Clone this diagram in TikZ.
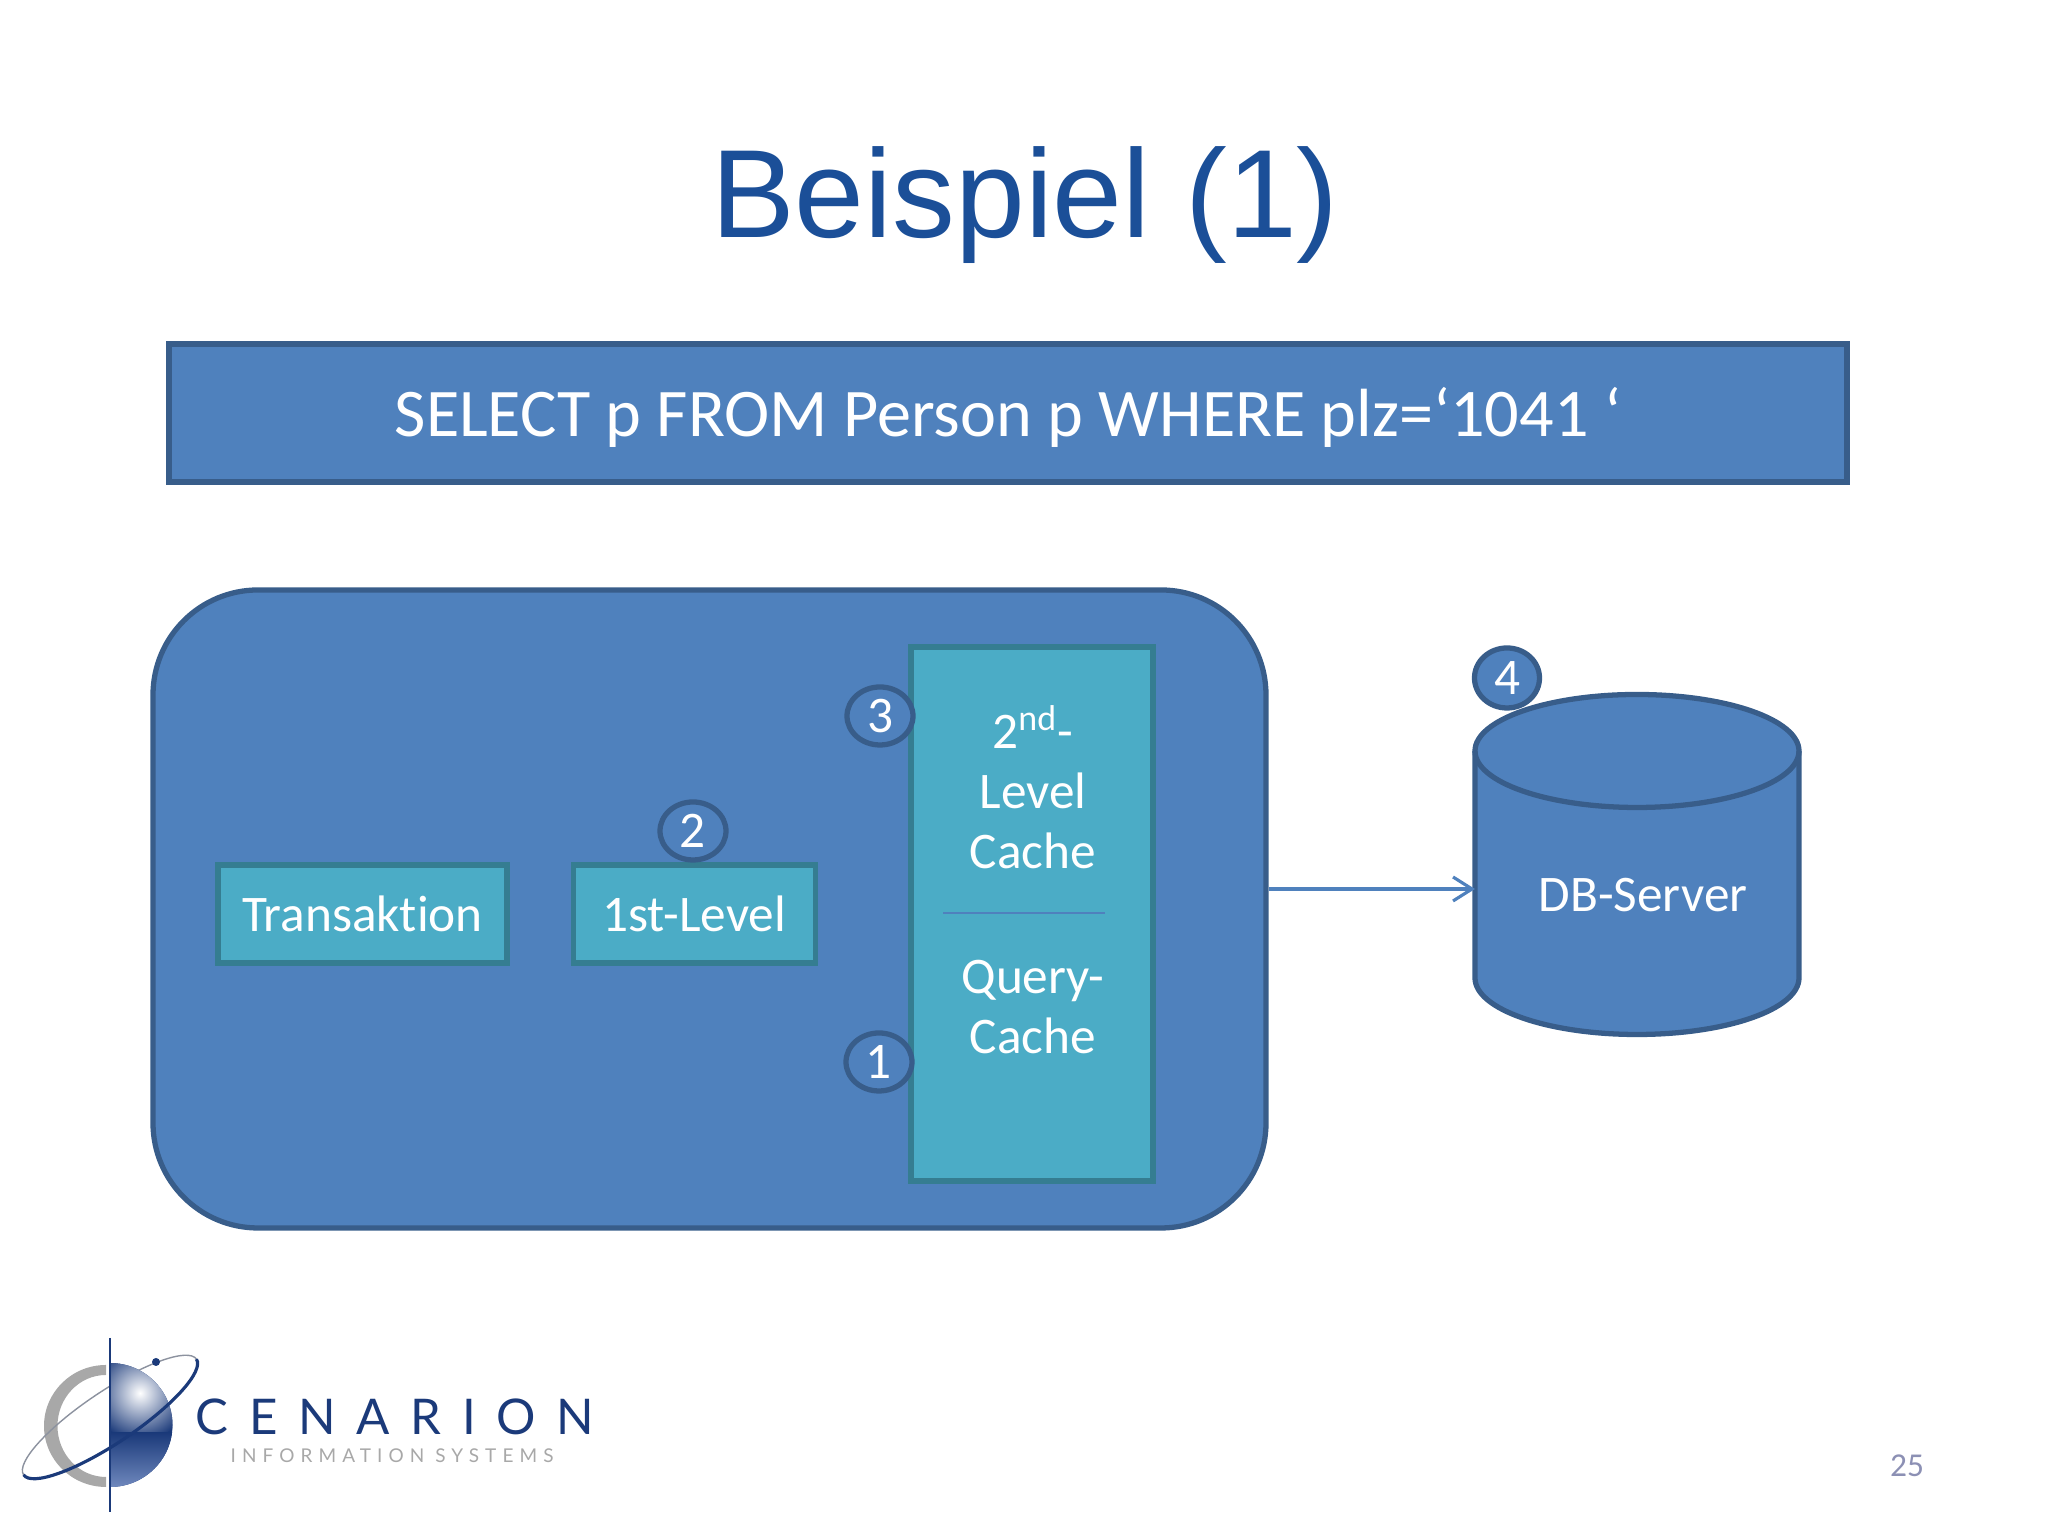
\documentclass[tikz,border=0pt]{standalone}
\usepackage{fontspec}
\setmainfont{Carlito}[RawFeature=-liga]
\newfontfamily\titlefont{Liberation Sans}
\newfontfamily\logofont{Lato}[LetterSpace=42]
\newfontfamily\logosubfont{Lato}[LetterSpace=32]
\usepackage{tikz}
\usetikzlibrary{shapes.geometric,arrows.meta,positioning,calc}
\definecolor{mainfill}{HTML}{4F81BD}
\definecolor{mainline}{HTML}{385D8A}
\definecolor{cachefill}{HTML}{4BACC6}
\definecolor{cacheline}{HTML}{357D91}
\definecolor{titleblue}{HTML}{1B4F98}
\definecolor{pagenum}{HTML}{8C90B4}
\definecolor{logonavy}{HTML}{1B3A7A}
\definecolor{logolight}{HTML}{6F88BD}
\definecolor{logogrey}{HTML}{A8A8A8}

\begin{document}
\begin{tikzpicture}[
    font=\fontsize{14.6pt}{17pt}\selectfont,
    bluebox/.style={rectangle, draw=mainline, fill=mainfill, line width=1.5pt, text=white, align=center},
    tealbox/.style={rectangle, draw=cacheline, fill=cachefill, line width=1.5pt, text=white, align=center, minimum height=0.98cm},
    stepmark/.style={ellipse, draw=mainline, fill=mainfill, line width=1.5pt, text=white, inner sep=0pt, minimum width=0.66cm, minimum height=0.58cm},
    flow/.style={-{Straight Barb[length=1.9mm, width=2.4mm]}, draw=mainfill, line width=0.9pt}
]
    \useasboundingbox (0,0) rectangle (20.48,15.36);

    % Title
    \node[text=titleblue, font=\titlefont\fontsize{35.7pt}{40pt}\selectfont] (title) at (10.25,13.31) {Beispiel (1)};

    % Query bar
    \node[bluebox, minimum width=16.78cm, minimum height=1.38cm, text depth=0.5pt, font=\fontsize{19.4pt}{22pt}\selectfont] (query) at (10.08,11.23) {SELECT p FROM Person p WHERE plz=‘1041 ‘};

    % Application server
    \node[bluebox, minimum width=11.13cm, minimum height=6.38cm, rounded corners=1.05cm] (server) at (7.095,6.27) {};
    \node[tealbox, minimum width=2.89cm] (trans) at (3.625,6.22) {Transaktion};
    \node[tealbox, minimum width=2.42cm, right=0.61cm of trans] (first) {1st-Level};
    \node[tealbox, minimum width=2.42cm, minimum height=5.34cm] (cache) at (10.32,6.22) {};

    % Cache contents
    \node[text=white, align=center] (second) at (10.33,7.49) {2\textsuperscript{nd}-\\Level\\Cache};
    \node[text=white, align=center] (querycache) at (10.33,5.29) {Query-\\Cache};
    \coordinate (divleft) at (9.43,6.23);
    \coordinate (divright) at (11.05,6.23);
    \draw[draw=mainfill, line width=0.5pt] (divleft) -- (divright);

    % Database
    \coordinate (dbtop) at (14.75,7.85);
    \coordinate (dbbot) at (14.75,5.58);
    \draw[draw=mainline, fill=mainfill, line width=1.5pt] (dbtop) -- (dbbot) arc[start angle=180, end angle=360, x radius=1.62, y radius=0.565] -- ++(0,2.27) arc[start angle=0, end angle=180, x radius=1.62, y radius=0.565] -- cycle;
    \draw[draw=mainline, line width=1.5pt] (dbtop) arc[start angle=180, end angle=360, x radius=1.62, y radius=0.565];
    \node[text=white] (dblabel) at (16.43,6.41) {DB-Server};

    % Arrow
    \coordinate (dbin) at (14.75,6.47);
    \draw[flow] (server.east |- dbin) -- (dbin);

    % Step marks
    \foreach \n/\x/\y in {3/8.80/8.20, 2/6.93/7.05, 1/8.79/4.74} {
        \node[stepmark] (step\n) at (\x,\y) {\n};
    }
    \node[stepmark, minimum width=0.65cm, minimum height=0.60cm] (step4) at (15.07,8.58) {4};

    % Logo
    \fill[logogrey] (1.06,1.71) arc[start angle=90, end angle=270, x radius=0.62, y radius=0.61] -- ++(0,0.10) arc[start angle=270, end angle=90, x radius=0.485, y radius=0.51] -- cycle;
    \begin{scope}[shift={(1.10,1.19)}, rotate=33.8]
        \draw[logogrey!80!logonavy, line width=0.4pt] (-1.04,0) arc[start angle=180, end angle=0, x radius=1.04, y radius=0.26];
    \end{scope}
    \begin{scope}
        \clip (1.10,1.73) arc[start angle=90, end angle=-90, x radius=0.625, y radius=0.62] -- cycle;
        \fill[logonavy] (1.0,0.4) rectangle (1.9,1.8);
        \shade[inner color=white, outer color=logonavy] (1.40,1.43) circle (0.48);
        \shade[top color=logonavy, bottom color=logolight] (1.0,0.49) rectangle (1.9,1.03);
    \end{scope}
    \begin{scope}[shift={(1.10,1.19)}, rotate=33.8]
        \draw[logonavy, line width=0.9pt] (-1.04,0) arc[start angle=180, end angle=360, x radius=1.04, y radius=0.26];
    \end{scope}
    \fill[logonavy] (1.56,1.74) circle (0.04);
    \draw[logonavy, line width=0.5pt] (1.10,1.98) -- (1.10,0.24);
    \node[text=logonavy, font=\logofont\fontsize{14pt}{15pt}\selectfont, anchor=base west, inner sep=0pt] (cenarion) at (1.95,1.01) {CENARION};
    \node[text=logogrey, font=\logosubfont\fontsize{5.4pt}{6pt}\selectfont, anchor=base west, inner sep=0pt] (systems) at (2.30,0.73) {INFORMATION SYSTEMS};

    % Page number
    \node[text=pagenum, font=\fontsize{9.5pt}{11pt}\selectfont] (pageno) at (19.07,0.70) {25};
\end{tikzpicture}
\end{document}
